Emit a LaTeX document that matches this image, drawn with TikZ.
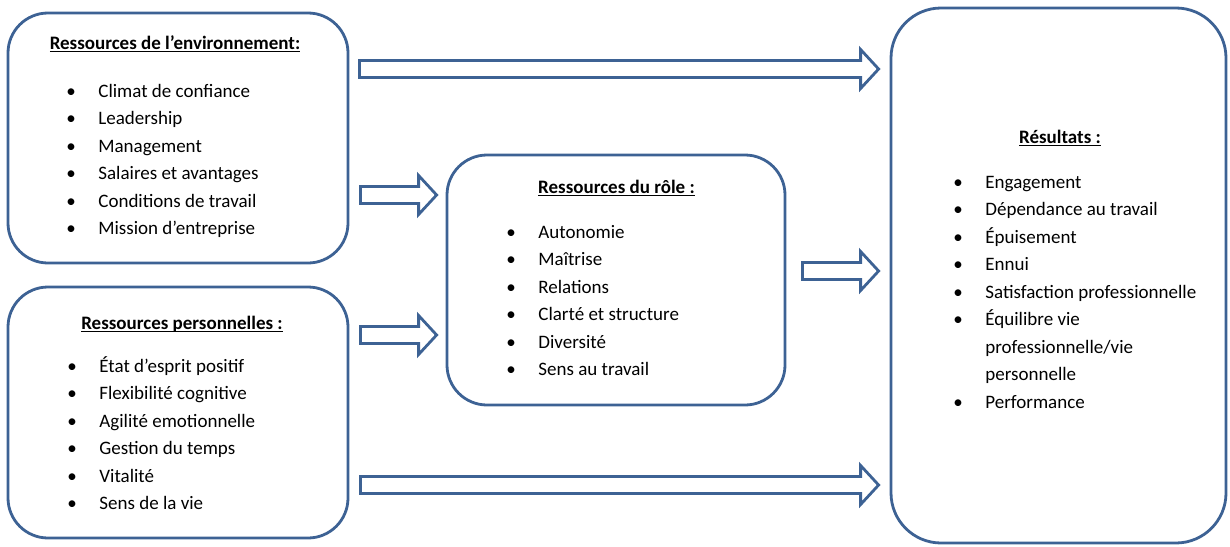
\documentclass[tikz,border=0pt]{standalone}
\usepackage{amsmath}
\usepackage{fontspec}
\setmainfont{Carlito}
\usepackage{tikz}
\usetikzlibrary{positioning,calc}

\definecolor{boxblue}{RGB}{61,98,148}

% hollow block arrow from a start point to a tip
\newcommand{\hollowarrow}[2]{%
  \draw[arrow style] let \p1=(#1), \p2=(#2) in
    (\x1,\y1+4.25pt) -- (\x2-9pt,\y1+4.25pt) -- (\x2-9pt,\y1+9.75pt) -- (\x2,\y1)
    -- (\x2-9pt,\y1-9.75pt) -- (\x2-9pt,\y1-4.25pt) -- (\x1,\y1-4.25pt) -- cycle;}
\newcommand{\titleline}[1]{\underline{\smash[b]{#1}}}

\begin{document}
\fontsize{9.5}{13.75}\selectfont
\begin{tikzpicture}[x=0.5pt,y=-0.5pt,
						% styles for the boxes, titles, lists and arrows
						box style/.style={draw=boxblue, line width=1.4pt, rounded corners=20pt, fill=white},
						title style/.style={font=\bfseries, anchor=base, inner sep=0pt},
						list style/.style={anchor=base west, inner sep=0pt},
						arrow style/.style={draw=boxblue, line width=1.4pt, line join=miter}
						]
						\useasboundingbox (0,0) rectangle (1230,546);
						
						% --- Boxes ---
						\node[box style, minimum width=170pt, minimum height=125pt] (env) at (178,138) {};
						\node[box style, minimum width=170pt, minimum height=125.5pt] (pers) at (178,412.5) {};
						\node[box style, minimum width=169pt, minimum height=125pt] (role) at (616,280) {};
						\node[box style, rounded corners=25pt, minimum width=167.5pt, minimum height=267.5pt] (res) at (1058.5,275.5) {};
						
						% --- Titles ---
						\node[title style] (envtitle) at (175,49) {\titleline{Ressources de l’environnement:}};
						\node[title style] (perstitle) at (182,329) {\titleline{Ressources personnelles :}};
						\node[title style] (roletitle) at (616.5,193) {\titleline{Ressources du rôle :}};
						\node[title style] (restitle) at (1060,143) {\titleline{Résultats :}};
						
						% --- Lists ---
						\node[list style] (envlist) at (66,97) {\begin{tabular}[t]{@{}p{16pt}@{}l@{}}
							\textbullet & Climat de confiance\\
							\textbullet & Leadership\\
							\textbullet & Management\\
							\textbullet & Salaires et avantages\\
							\textbullet & Conditions de travail\\
							\textbullet & Mission d’entreprise
						\end{tabular}};
						\node[list style] (perslist) at (67,372) {\begin{tabular}[t]{@{}p{16pt}@{}l@{}}
							\textbullet & État d’esprit positif\\
							\textbullet & Flexibilité cognitive\\
							\textbullet & Agilité emotionnelle\\
							\textbullet & Gestion du temps\\
							\textbullet & Vitalité\\
							\textbullet & Sens de la vie
						\end{tabular}};
						\node[list style] (rolelist) at (506,238) {\begin{tabular}[t]{@{}p{16pt}@{}l@{}}
							\textbullet & Autonomie\\
							\textbullet & Maîtrise\\
							\textbullet & Relations\\
							\textbullet & Clarté et structure\\
							\textbullet & Diversité\\
							\textbullet & Sens au travail
						\end{tabular}};
						\node[list style] (reslist) at (953,188) {\begin{tabular}[t]{@{}p{16pt}@{}l@{}}
							\textbullet & Engagement\\
							\textbullet & Dépendance au travail\\
							\textbullet & Épuisement\\
							\textbullet & Ennui\\
							\textbullet & Satisfaction professionnelle\\
							\textbullet & Équilibre vie\\
							& professionnelle/vie\\
							& personnelle\\
							\textbullet & Performance
						\end{tabular}};
						
						% --- Arrow ends ---
						\path (env.east |- 0,69) ++(5pt,0) coordinate (envtop) (res.west |- 0,69) ++(-5.5pt,0) coordinate (restop);
						\path (env.east |- 0,195) ++(5.5pt,0) coordinate (envmid) (role.west |- 0,195) ++(-4.5pt,0) coordinate (roleup);
						\path (pers.east |- 0,335) ++(5.5pt,0) coordinate (persmid) (role.west |- 0,335) ++(-4.5pt,0) coordinate (roledown);
						\path (role.east |- 0,271) ++(8pt,0) coordinate (roleout) (res.west |- 0,271) ++(-5.5pt,0) coordinate (resmid);
						\path (pers.east |- 0,485) ++(5.5pt,0) coordinate (persbot) (res.west |- 0,485) ++(-5.5pt,0) coordinate (resbot);
						
						% --- Draw the arrows ---
						\hollowarrow{envtop}{restop}
						\hollowarrow{envmid}{roleup}
						\hollowarrow{persmid}{roledown}
						\hollowarrow{roleout}{resmid}
						\hollowarrow{persbot}{resbot}
					\end{tikzpicture}
\end{document}
